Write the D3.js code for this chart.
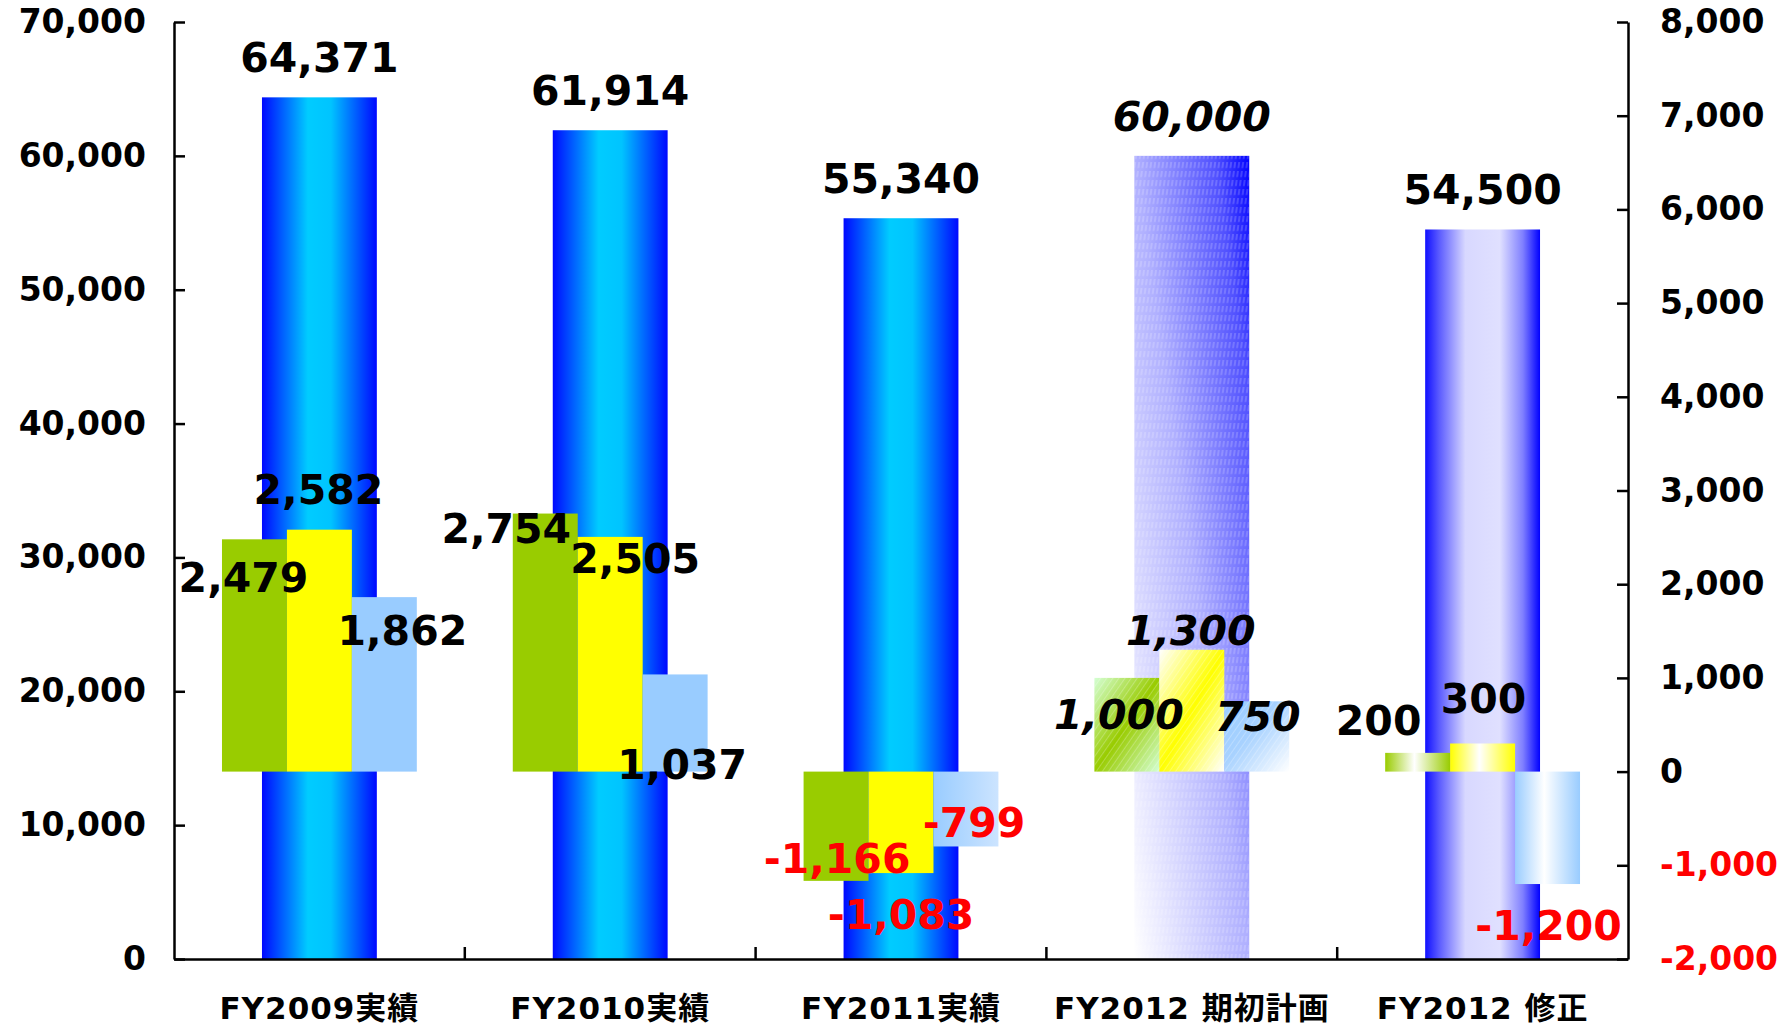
<html>
<head>
<meta charset="utf-8">
<script src="https://d3js.org/d3.v7.min.js"></script>
<style>
  body { margin: 0; background: #fff; }
  text { font-family: "DejaVu Sans", "Noto Sans CJK JP", sans-serif; font-weight: bold; }
</style>
</head>
<body>
<svg width="1792" height="1031"></svg>
<script>
// values
const categories = ["FY2009実績", "FY2010実績", "FY2011実績", "FY2012 期初計画", "FY2012 修正"];
const sales = [64371, 61914, 55340, 60000, 54500];          // left axis
const profitA = [2479, 2754, -1166, 1000, 200];             // green, right axis
const profitB = [2582, 2505, -1083, 1300, 300];             // yellow, right axis
const profitC = [1862, 1037, -799, 750, -1200];             // light blue, right axis
const leftTicks = [0, 10000, 20000, 30000, 40000, 50000, 60000, 70000];
const rightTicks = [-2000, -1000, 0, 1000, 2000, 3000, 4000, 5000, 6000, 7000, 8000];

// how each category is painted (plain, plan = hatched diagonal, rev = cylinder)
const barStyle = ["cyl", "cyl", "cyl2", "plan", "rev"];
// hand-placed data label offsets [dx, dy] from bar centre / bar end
const subLabelOffsets = [
  [[-11, 53], [-1, -26], [18, 48]],
  [[-39, 29], [25, 36], [7, 105]],
  [[1, -8], [0, 56], [8, -9]],
  [[-8, 51], [-1, -5], [1, 30]],
  [[-39, -18], [1, -30], [1, 56]]
];

const svg = d3.select('svg');
const width = +svg.attr('width');
const height = +svg.attr('height');
svg.append('rect').attr('width', width).attr('height', height).attr('fill', '#fff');

const plotL = 174, plotR = 1628, plotT = 22, plotB = 959;

const x = d3.scaleBand().domain(categories).range([plotL, plotR]).padding(0);
const yL = d3.scaleLinear().domain([0, 70000]).range([plotB, plotT]);
const yR = d3.scaleLinear().domain([-2000, 8000]).range([plotB, plotT]);
const mainW = x.bandwidth() * 0.395;
const sub = d3.scaleBand().domain([0, 1, 2]).range([-x.bandwidth() * 0.335, x.bandwidth() * 0.335]);

const defs = svg.append('defs');
function grad(id, stops, x1, y1, x2, y2) {
  const g = defs.append('linearGradient').attr('id', id)
    .attr('x1', x1).attr('y1', y1).attr('x2', x2).attr('y2', y2);
  stops.forEach(s => g.append('stop').attr('offset', s[0]).attr('stop-color', s[1]));
}
grad('main-cyl', [[0, '#0008ff'], [0.4, '#00ccff'], [0.6, '#00c4ff'], [1, '#0008ff']], 0, 0, 1, 0);
grad('main-cyl2', [[0, '#0008ff'], [0.4, '#00ccff'], [0.6, '#00c4ff'], [1, '#0008ff']], 0, 0, 1, 0);
grad('main-plan', [[0, '#ffffff'], [0.5, '#b0b0ff'], [0.85, '#5050ff'], [1, '#0000ff']], 0, 1, 1, 0);
grad('main-rev', [[0, '#1010ff'], [0.12, '#5a5aff'], [0.35, '#d8d8ff'], [0.65, '#e0e0ff'], [0.85, '#8080ff'], [1, '#0000ff']], 0, 0, 1, 0);

const subColors = ['#99cc00', '#ffff00', '#99ccff'];
const subLight = ['#d4ffd4', '#ffffff', '#ffffff'];
subColors.forEach((c, i) => {
  grad(`sub${i}-cyl`, [[0, c], [1, c]], 0, 0, 1, 0);
  grad(`sub${i}-cyl2`, [[0, c], [1, i === 2 ? '#cce4ff' : c]], 0, 0, 1, 0);
  grad(`sub${i}-plan`, i === 2
    ? [[0, '#99ccff'], [0.45, '#a8d2ff'], [1, '#ffffff']]
    : [[0, subLight[i]], [0.5, c], [1, subLight[i]]], 0, 0, 1, 1);
  grad(`sub${i}-rev`, [[0, c], [0.45, '#ffffff'], [1, c]], 0, 0, 1, 0);
});

// fine textures used by the plan bars
const pDash = defs.append('pattern').attr('id', 'tex-dash').attr('patternUnits', 'userSpaceOnUse')
  .attr('width', 4).attr('height', 9).attr('patternTransform', 'skewX(-8)');
pDash.append('line').attr('x1', 2).attr('y1', 0).attr('x2', 2).attr('y2', 6)
  .attr('stroke', '#fff').attr('stroke-width', 1).attr('stroke-opacity', 0.35);
const pHatch = defs.append('pattern').attr('id', 'tex-hatch').attr('patternUnits', 'userSpaceOnUse')
  .attr('width', 5).attr('height', 5).attr('patternTransform', 'rotate(35)');
pHatch.append('line').attr('x1', 0).attr('y1', 0).attr('x2', 0).attr('y2', 5)
  .attr('stroke', '#fff').attr('stroke-width', 1.2).attr('stroke-opacity', 0.4);

// main bars (left axis)
const mainG = svg.append('g');
mainG.selectAll('rect.main').data(sales)
  .join('rect').attr('class', 'main')
  .attr('x', (d, i) => x(categories[i]) + x.bandwidth() / 2 - mainW / 2)
  .attr('y', d => yL(d))
  .attr('width', mainW)
  .attr('height', d => yL(0) - yL(d))
  .attr('fill', (d, i) => `url(#main-${barStyle[i]})`);
mainG.selectAll('rect.tex').data(sales.map((d, i) => ({ d, i })).filter(o => barStyle[o.i] === 'plan'))
  .join('rect').attr('class', 'tex')
  .attr('x', o => x(categories[o.i]) + x.bandwidth() / 2 - mainW / 2)
  .attr('y', o => yL(o.d))
  .attr('width', mainW)
  .attr('height', o => yL(0) - yL(o.d))
  .attr('fill', 'url(#tex-dash)');

// profit bars (right axis)
const subData = [];
[profitA, profitB, profitC].forEach((arr, s) => arr.forEach((v, i) => subData.push({ s, i, v })));
const subG = svg.append('g');
const subX = o => x(categories[o.i]) + x.bandwidth() / 2 + sub(o.s);
subG.selectAll('rect.sub').data(subData)
  .join('rect').attr('class', 'sub')
  .attr('x', subX)
  .attr('y', o => yR(Math.max(0, o.v)))
  .attr('width', sub.bandwidth())
  .attr('height', o => Math.abs(yR(o.v) - yR(0)))
  .attr('fill', o => `url(#sub${o.s}-${barStyle[o.i]})`);
subG.selectAll('rect.tex').data(subData.filter(o => barStyle[o.i] === 'plan'))
  .join('rect').attr('class', 'tex')
  .attr('x', subX)
  .attr('y', o => yR(Math.max(0, o.v)))
  .attr('width', sub.bandwidth())
  .attr('height', o => Math.abs(yR(o.v) - yR(0)))
  .attr('fill', 'url(#tex-hatch)');

// axes
const fmt = v => d3.format(',')(v).replace('\u2212', '-');
const axL = svg.append('g').attr('transform', `translate(${plotL},0)`)
  .call(d3.axisLeft(yL).tickValues(leftTicks).tickFormat(fmt).tickSize(-11).tickSizeOuter(0).tickPadding(28));
const axR = svg.append('g').attr('transform', `translate(${plotR},0)`)
  .call(d3.axisRight(yR).tickValues(rightTicks).tickFormat(fmt).tickSize(-11).tickSizeOuter(0).tickPadding(32));
const axB = svg.append('g').attr('transform', `translate(0,${plotB})`)
  .call(d3.axisBottom(x).tickSize(0).tickPadding(38));
[axL, axR, axB].forEach(a => {
  a.select('.domain').attr('stroke', '#000').attr('stroke-width', 2.5);
  a.selectAll('.tick line').attr('stroke', '#000').attr('stroke-width', 2.5);
  a.selectAll('.tick text').attr('fill', '#000').style('font-family', '"DejaVu Sans", "Noto Sans CJK JP", sans-serif').style('font-weight', 'bold');
});
axL.selectAll('.tick text').style('font-size', '33px');
axR.selectAll('.tick text').style('font-size', '33px').attr('fill', d => d < 0 ? '#ff0000' : '#000');
axB.selectAll('.tick text').style('font-size', '31px').style('letter-spacing', '1px');
axB.selectAll('line.sep').data(categories.slice(1))
  .join('line').attr('class', 'sep')
  .attr('x1', d => x(d)).attr('x2', d => x(d))
  .attr('y1', 0).attr('y2', -12)
  .attr('stroke', '#000').attr('stroke-width', 2.5);

// labels
const lab = svg.append('g');
lab.selectAll('text.main').data(sales)
  .join('text').attr('class', 'main')
  .attr('x', (d, i) => x(categories[i]) + x.bandwidth() / 2)
  .attr('y', d => yL(d) - 25)
  .attr('text-anchor', 'middle')
  .style('font-size', '41px')
  .style('font-style', (d, i) => barStyle[i] === 'plan' ? 'italic' : 'normal')
  .attr('fill', '#000')
  .text(fmt);
lab.selectAll('text.sub').data(subData)
  .join('text').attr('class', 'sub')
  .attr('x', o => subX(o) + sub.bandwidth() / 2 + subLabelOffsets[o.i][o.s][0])
  .attr('y', o => yR(o.v) + subLabelOffsets[o.i][o.s][1])
  .attr('text-anchor', 'middle')
  .style('font-size', '41px')
  .style('font-style', o => barStyle[o.i] === 'plan' ? 'italic' : 'normal')
  .attr('fill', o => o.v < 0 ? '#ff0000' : '#000')
  .text(o => fmt(o.v));
</script>
</body>
</html>
